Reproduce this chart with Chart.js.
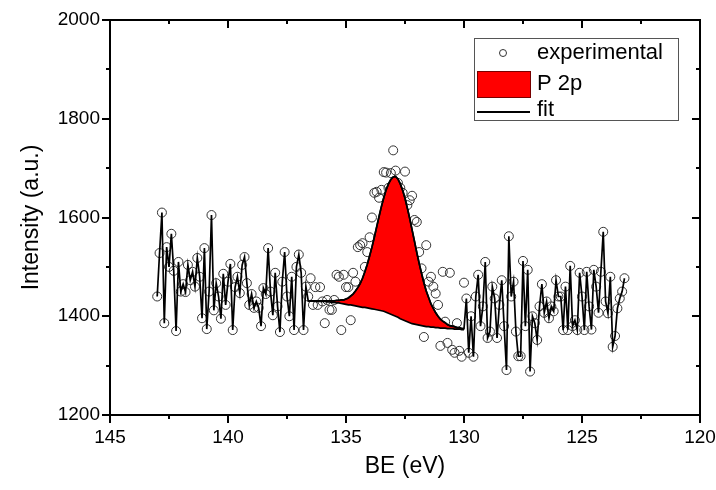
<!DOCTYPE html>
<html>
<head>
<meta charset="utf-8">
<script src="https://cdn.jsdelivr.net/npm/chart.js@4"></script>
<style>
  html, body { margin: 0; padding: 0; background: #fff; overflow: hidden; }
  canvas { display: block; }
</style>
</head>
<body>
<canvas id="xpsChart" width="716" height="490"></canvas>
<script>
// binding energy grid (eV), 0.1 eV step
const be = [
  143, 142.9, 142.8, 142.7, 142.6, 142.5, 142.4, 142.3, 142.2, 142.1,
  142, 141.9, 141.8, 141.7, 141.6, 141.5, 141.4, 141.3, 141.2, 141.1,
  141, 140.9, 140.8, 140.7, 140.6, 140.5, 140.4, 140.3, 140.2, 140.1,
  140, 139.9, 139.8, 139.7, 139.6, 139.5, 139.4, 139.3, 139.2, 139.1,
  139, 138.9, 138.8, 138.7, 138.6, 138.5, 138.4, 138.3, 138.2, 138.1,
  138, 137.9, 137.8, 137.7, 137.6, 137.5, 137.4, 137.3, 137.2, 137.1,
  137, 136.9, 136.8, 136.7, 136.6, 136.5, 136.4, 136.3, 136.2, 136.1,
  136, 135.9, 135.8, 135.7, 135.6, 135.5, 135.4, 135.3, 135.2, 135.1,
  135, 134.9, 134.8, 134.7, 134.6, 134.5, 134.4, 134.3, 134.2, 134.1,
  134, 133.9, 133.8, 133.7, 133.6, 133.5, 133.4, 133.3, 133.2, 133.1,
  133, 132.9, 132.8, 132.7, 132.6, 132.5, 132.4, 132.3, 132.2, 132.1,
  132, 131.9, 131.8, 131.7, 131.6, 131.5, 131.4, 131.3, 131.2, 131.1,
  131, 130.9, 130.8, 130.7, 130.6, 130.5, 130.4, 130.3, 130.2, 130.1,
  130, 129.9, 129.8, 129.7, 129.6, 129.5, 129.4, 129.3, 129.2, 129.1,
  129, 128.9, 128.8, 128.7, 128.6, 128.5, 128.4, 128.3, 128.2, 128.1,
  128, 127.9, 127.8, 127.7, 127.6, 127.5, 127.4, 127.3, 127.2, 127.1,
  127, 126.9, 126.8, 126.7, 126.6, 126.5, 126.4, 126.3, 126.2, 126.1,
  126, 125.9, 125.8, 125.7, 125.6, 125.5, 125.4, 125.3, 125.2, 125.1,
  125, 124.9, 124.8, 124.7, 124.6, 124.5, 124.4, 124.3, 124.2, 124.1,
  124, 123.9, 123.8, 123.7, 123.6, 123.5, 123.4, 123.3, 123.2
];

// measured intensity (a.u.)
const counts = [
  1440, 1528, 1610, 1386, 1540, 1500, 1567, 1492, 1370, 1510,
  1450, 1465, 1449, 1504, 1473, 1490, 1460, 1518, 1480, 1396,
  1538, 1374, 1450, 1605, 1412, 1467, 1440, 1395, 1486, 1423,
  1470, 1506, 1372, 1459, 1480, 1447, 1504, 1520, 1467, 1423,
  1445, 1417, 1430, 1417, 1380, 1457, 1445, 1538, 1450, 1402,
  1488, 1420, 1368, 1470, 1530, 1440, 1400, 1480, 1372, 1500,
  1525, 1488, 1372, 1460, 1440, 1477, 1423, 1459, 1423, 1459,
  1430, 1386, 1433, 1413, 1413, 1433, 1484, 1480, 1372, 1484,
  1459, 1459, 1392, 1488, 1470, 1540, 1544, 1548, 1500, 1530,
  1560, 1600, 1650, 1652, 1640, 1656, 1692, 1691, 1660, 1690,
  1736, 1695, 1670, 1660, 1650, 1693, 1625, 1635, 1644, 1595,
  1591, 1530, 1497, 1358, 1544, 1470, 1480, 1460, 1446, 1423,
  1340, 1490, 1389, 1346, 1488, 1332, 1326, 1386, 1330, 1318,
  1468, 1436, 1326, 1400, 1318, 1440, 1484, 1380, 1420, 1510,
  1356, 1369, 1460, 1436, 1356, 1423, 1473, 1380, 1291, 1562,
  1440, 1470, 1369, 1319, 1319, 1512, 1380, 1494, 1288, 1400,
  1386, 1352, 1420, 1465, 1407, 1430, 1396, 1420, 1410, 1473,
  1440, 1440, 1372, 1460, 1372, 1502, 1380, 1392, 1372, 1488,
  1440, 1372, 1490, 1420, 1373, 1494, 1460, 1407, 1490, 1571,
  1430, 1406, 1480, 1338, 1360, 1416, 1436, 1450, 1477
];

// fitted window 136.6 .. 130.0 eV (indices 64..130 of be)
const peakFrom = 64, peakTo = 130;

// background under the P 2p component
const background = [
  1431, 1431, 1431, 1430, 1430, 1430, 1430, 1430, 1429, 1429,
  1428, 1428, 1427, 1427, 1426, 1425, 1424, 1423, 1423, 1422,
  1421, 1420, 1419, 1418, 1418, 1417, 1416, 1415, 1414, 1413,
  1412, 1411, 1410, 1408, 1406, 1404, 1402, 1400, 1398, 1395,
  1393, 1391, 1389, 1387, 1385, 1384, 1383, 1382, 1381, 1380,
  1379, 1379, 1378, 1378, 1377, 1377, 1376, 1376, 1376, 1375,
  1375, 1375, 1374, 1374, 1374, 1373, 1373
];

// background + P 2p component
const envelope = [
  1431, 1431, 1431, 1431, 1431, 1431, 1431, 1431, 1431, 1431,
  1431, 1431, 1432, 1432, 1433, 1433, 1435, 1437, 1441, 1445,
  1451, 1458, 1466, 1477, 1490, 1505, 1522, 1540, 1560, 1581,
  1602, 1622, 1640, 1656, 1668, 1677, 1682, 1683, 1678, 1668,
  1655, 1639, 1619, 1598, 1575, 1552, 1529, 1507, 1487, 1468,
  1451, 1438, 1425, 1416, 1407, 1400, 1394, 1390, 1387, 1383,
  1381, 1380, 1379, 1377, 1377, 1375, 1375
];

const xRange = [120, 145];
const yRange = [1200, 2000];

const peakBE = be.slice(peakFrom, peakTo + 1);
const fitLine = counts.slice(0, peakFrom).concat(envelope, counts.slice(peakTo + 1));

function pts(xs, ys) {
  return xs.map((x, i) => ({ x: x, y: ys[i] }));
}

Chart.defaults.font.family = "'Liberation Sans', Arial, sans-serif";
Chart.defaults.color = '#000';

function line(ctx, x1, y1, x2, y2) {
  ctx.beginPath();
  ctx.moveTo(x1, y1);
  ctx.lineTo(x2, y2);
  ctx.stroke();
}

// box frame with in/out ticks like the original plot
const framePlugin = {
  id: 'frame',
  afterDraw(chart) {
    const { ctx, chartArea: a, scales: { x, y } } = chart;
    const L = Math.round(a.left), R = Math.round(a.right);
    const T = Math.round(a.top), B = Math.round(a.bottom);
    ctx.save();
    ctx.strokeStyle = '#000000';
    ctx.lineWidth = 2;
    ctx.lineCap = 'square';
    line(ctx, L, T, R, T);
    line(ctx, R, T, R, B);
    line(ctx, L, B, R, B);
    line(ctx, L, T, L, B);
    ctx.lineCap = 'butt';
    for (let v = xRange[0]; v <= xRange[1]; v += 2.5) {
      const px = Math.round(x.getPixelForValue(v));
      const len = v % 5 === 0 ? 8 : 4;
      line(ctx, px, B, px, B + len);
      line(ctx, px, T, px, T + len);
    }
    for (let v = yRange[0]; v <= yRange[1]; v += 100) {
      const py = Math.round(y.getPixelForValue(v));
      const len = v % 200 === 0 ? 8 : 4;
      line(ctx, L - len, py, L, py);
      line(ctx, R - len, py, R, py);
    }

    // legend
    const lx = 474, ly = 38;
    ctx.fillStyle = '#fff';
    ctx.fillRect(lx, ly, 204, 82);
    ctx.strokeStyle = '#555';
    ctx.lineWidth = 1;
    ctx.strokeRect(lx + 0.5, ly + 0.5, 204, 82);

    ctx.beginPath();
    ctx.arc(503, 53, 3.5, 0, Math.PI * 2);
    ctx.strokeStyle = '#333';
    ctx.stroke();

    ctx.fillStyle = '#ff0000';
    ctx.fillRect(477, 71, 53, 26);
    ctx.strokeStyle = '#700';
    ctx.strokeRect(477.5, 71.5, 53, 26);

    ctx.fillStyle = '#000';
    ctx.fillRect(477, 111, 53, 2);

    ctx.font = "22px 'Liberation Sans', Arial, sans-serif";
    ctx.textBaseline = 'middle';
    ctx.textAlign = 'left';
    ctx.fillText('experimental', 537, 53);
    ctx.fillText('P 2p', 537, 84);
    ctx.fillText('fit', 537, 110);
    ctx.restore();
  }
};

const ctx = document.getElementById('xpsChart').getContext('2d');
new Chart(ctx, {
  type: 'line',
  data: {
    datasets: [
      {
        label: 'experimental',
        data: pts(be, counts),
        showLine: false,
        pointRadius: 4.5,
        pointBorderWidth: 1,
        pointBorderColor: '#333',
        pointBackgroundColor: 'rgba(0,0,0,0)',
        order: 3
      },
      {
        label: 'background',
        data: pts(peakBE, background),
        borderColor: '#000',
        borderWidth: 1.6,
        pointRadius: 0,
        order: 1
      },
      {
        label: 'P 2p',
        data: pts(peakBE, envelope),
        borderColor: '#000',
        borderWidth: 1.6,
        backgroundColor: '#ff0000',
        fill: 1,
        pointRadius: 0,
        order: 2
      },
      {
        label: 'fit',
        data: pts(be, fitLine),
        borderColor: '#000',
        borderWidth: 1.7,
        pointRadius: 0,
        order: 0
      }
    ]
  },
  options: {
    responsive: false,
    animation: false,
    layout: { padding: { top: 20, right: 16, left: 0, bottom: 0 } },
    plugins: {
      legend: { display: false },
      tooltip: { enabled: false }
    },
    scales: {
      x: {
        type: 'linear',
        reverse: true,
        min: xRange[0],
        max: xRange[1],
        grid: { display: false, drawTicks: false },
        border: { display: false },
        ticks: { stepSize: 5, padding: 11, font: { size: 19 }, maxRotation: 0, callback: v => String(v) },
        title: { display: true, text: 'BE (eV)', font: { size: 23 }, padding: { top: 0, bottom: 10 } },
        afterFit(scale) { scale.height = 75; scale.paddingLeft = 0; scale.paddingRight = 0; }
      },
      y: {
        min: yRange[0],
        max: yRange[1],
        grid: { display: false, drawTicks: false },
        border: { display: false },
        ticks: { stepSize: 200, padding: 10, font: { size: 19 }, callback: v => String(v) },
        title: { display: true, text: 'Intensity (a.u.)', font: { size: 23 }, padding: { top: 18, bottom: 0 } },
        afterFit(scale) { scale.width = 110; scale.paddingTop = 0; scale.paddingBottom = 0; }
      }
    }
  },
  plugins: [framePlugin]
});
</script>
</body>
</html>
